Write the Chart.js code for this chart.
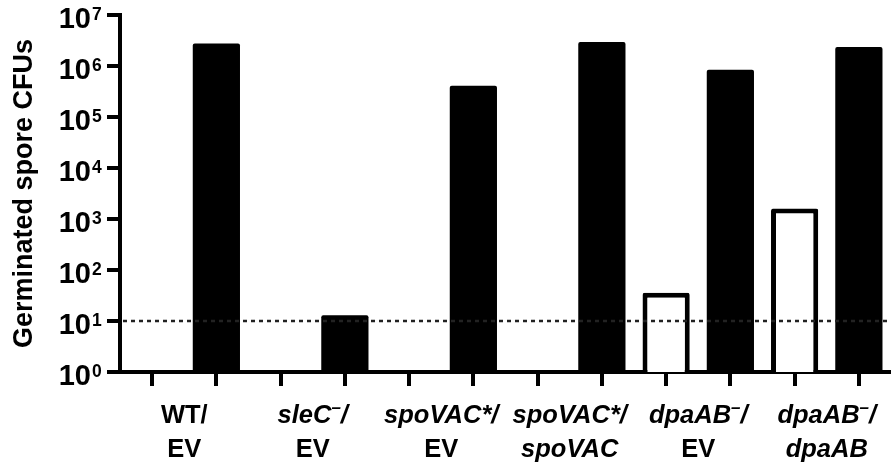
<!DOCTYPE html>
<html><head><meta charset="utf-8">
<script src="https://cdn.jsdelivr.net/npm/chart.js@4.4.1/dist/chart.umd.min.js"></script>
<style>html,body{margin:0;padding:0;background:#fff;} canvas{display:block;}</style>
</head><body>
<canvas id="c" width="891" height="466"></canvas>
<script>
// ---- data ----
const groups = ['WT/EV', 'sleC–/EV', 'spoVAC*/EV', 'spoVAC*/spoVAC', 'dpaAB–/EV', 'dpaAB–/dpaAB'];
const openBarValues = [null, null, null, null, 36, 1600];
const filledBarValues = [2.75e6, 13, 4.1e5, 2.95e6, 8.4e5, 2.35e6];
const yTickExponents = [0, 1, 2, 3, 4, 5, 6, 7];
const detectionLimit = 10;
const yTitle = 'Germinated spore CFUs';
const uprightWords = ['WT', 'EV'];

// ---- build slots (two bar positions per group) ----
const slots = [], openData = [], filledData = [];
groups.forEach((g, i) => {
  slots.push(g + ' (open)', g + ' (filled)');
  openData.push(openBarValues[i], null);
  filledData.push(null, filledBarValues[i]);
});

const FAM = '"Liberation Sans", Arial, Helvetica, sans-serif';

function drawStyledLine(ctx, line, cx, baseline) {
  const word = line.replace(/[\/–*]/g, '');
  const italic = !uprightWords.includes(word);
  const mainFont = (italic ? 'italic ' : '') + 'bold 25.5px ' + FAM;
  const supFont = (italic ? 'italic ' : '') + 'bold 17px ' + FAM;
  const segs = [];
  for (const ch of line) {
    const sup = ch === '–';
    if (segs.length && segs[segs.length - 1].sup === sup) segs[segs.length - 1].t += ch;
    else segs.push({ t: ch, sup });
  }
  let w = 0;
  segs.forEach(s => { ctx.font = s.sup ? supFont : mainFont; s.w = ctx.measureText(s.t).width; w += s.w; });
  let xx = cx - w / 2;
  ctx.textAlign = 'left';
  ctx.textBaseline = 'alphabetic';
  segs.forEach(s => {
    ctx.font = s.sup ? supFont : mainFont;
    ctx.fillText(s.t, xx, s.sup ? baseline - 10 : baseline);
    xx += s.w;
  });
}

const annot = {
  id: 'annot',
  afterDatasetsDraw(chart) {
    const { ctx, chartArea, scales: { y } } = chart;
    const py = y.getPixelForValue(detectionLimit);
    ctx.save();
    ctx.setLineDash([4, 4]);
    ctx.lineWidth = 2.5;
    ctx.strokeStyle = '#222';
    ctx.beginPath();
    ctx.moveTo(chartArea.left + 3, py);
    ctx.lineTo(chartArea.right, py);
    ctx.stroke();
    ctx.restore();
  },
  afterDraw(chart) {
    const { ctx, scales: { x, y } } = chart;
    ctx.save();
    ctx.fillStyle = '#000';
    yTickExponents.forEach(e => {
      const py = y.getPixelForValue(Math.pow(10, e));
      ctx.font = 'bold 29px ' + FAM;
      ctx.textAlign = 'right';
      ctx.textBaseline = 'alphabetic';
      ctx.fillText('10', 91, py + 12.5);
      ctx.font = 'bold 17.5px ' + FAM;
      ctx.textAlign = 'left';
      ctx.fillText(String(e), 92, py + 4.5);
    });
    groups.forEach((g, i) => {
      const cx = (x.getPixelForValue(2 * i) + x.getPixelForValue(2 * i + 1)) / 2;
      const k = g.indexOf('/');
      drawStyledLine(ctx, g.slice(0, k + 1), cx, 423);
      drawStyledLine(ctx, g.slice(k + 1), cx, 457);
    });
    ctx.restore();
  }
};

new Chart(document.getElementById('c'), {
  type: 'bar',
  data: {
    labels: slots,
    datasets: [
      { label: 'open', data: openData, backgroundColor: '#fff', borderColor: '#000', borderWidth: 5, borderSkipped: 'start', borderRadius: 2 },
      { label: 'filled', data: filledData, backgroundColor: '#000', borderColor: '#000', borderWidth: 0, borderRadius: 2 }
    ]
  },
  options: {
    responsive: false,
    animation: false,
    layout: { padding: { top: 15, right: 0, left: 0, bottom: 0 } },
    datasets: { bar: { grouped: false, categoryPercentage: 1, barPercentage: 0.735 } },
    plugins: { legend: { display: false }, tooltip: { enabled: false } },
    scales: {
      x: {
        type: 'category', offset: true,
        grid: { display: true, offset: false, drawOnChartArea: false, drawTicks: true, tickLength: 14, tickWidth: 4, lineWidth: 4, color: '#000', tickColor: '#000' },
        border: { display: true, width: 4, color: '#000' },
        ticks: { display: false },
        afterFit(s) { s.height = 94; }
      },
      y: {
        type: 'logarithmic', min: 1, max: 1e7,
        grid: { display: true, drawOnChartArea: false, drawTicks: true, tickLength: 13, tickWidth: 4, lineWidth: 4, color: '#000', tickColor: '#000' },
        border: { display: true, width: 4, color: '#000' },
        ticks: { display: false },
        afterBuildTicks(s) { s.ticks = yTickExponents.map(e => ({ value: Math.pow(10, e) })); },
        title: { display: true, text: yTitle, color: '#000', font: { family: FAM, size: 27, weight: 'bold' }, padding: { top: 8, bottom: 0 } },
        afterFit(s) { s.width = 120; }
      }
    }
  },
  plugins: [annot]
});
</script>
</body></html>
